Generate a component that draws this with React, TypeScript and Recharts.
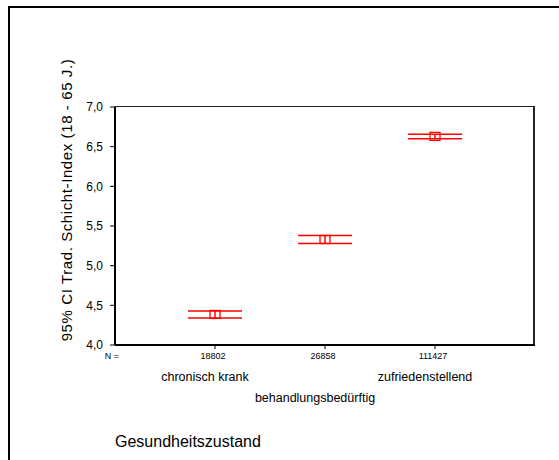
import {
  ComposedChart,
  Scatter,
  ErrorBar,
  XAxis,
  YAxis,
} from "recharts";

const categories = ["chronisch krank", "behandlungsbedürftig", "zufriedenstellend"];
const counts = ["18802", "26858", "111427"];
const means = [4.385, 5.33, 6.63];
const lowers = [4.34, 5.28, 6.6];
const uppers = [4.43, 5.38, 6.655];
const yTicks = [4.0, 4.5, 5.0, 5.5, 6.0, 6.5, 7.0];

const data = categories.map((name, i) => ({
  name,
  n: counts[i],
  mean: means[i],
  err: [means[i] - lowers[i], uppers[i] - means[i]],
}));

const RED = "#ff0000";
const FONT = "'Liberation Sans', Arial, sans-serif";

function CategoryTick(props: any) {
  const { x, y, payload, index } = props;
  const row = data[index];
  return (
    <g fontFamily={FONT} fill="#000">
      {index === 0 && (
        <text x={112} y={y + 5} fontSize={9} textAnchor="middle" dominantBaseline="central">
          N =
        </text>
      )}
      <text x={x - 2} y={y + 5} fontSize={9} textAnchor="middle" dominantBaseline="central">
        {row ? row.n : ""}
      </text>
      <text
        x={x - 10}
        y={y + (index % 2 === 1 ? 47 : 26)}
        fontSize={12.5}
        textAnchor="middle"
        dominantBaseline="central"
      >
        {payload.value}
      </text>
    </g>
  );
}

function MeanBox(props: any) {
  const { cx, cy } = props;
  if (cx == null || cy == null) return null;
  return <rect x={cx - 5} y={cy - 4} width={10} height={8} fill="none" stroke={RED} strokeWidth={1.3} />;
}

export default function App() {
  return (
    <div
      style={{
        position: "absolute",
        left: 0,
        top: 0,
        width: 559,
        height: 460,
        overflow: "hidden",
        background: "#fff",
      }}
    >
      <div
        style={{
          position: "absolute",
          left: 8,
          top: 6,
          width: 620,
          height: 520,
          border: "2px solid #000",
          boxSizing: "border-box",
        }}
      />
      <div
        style={{
          position: "absolute",
          left: 115,
          top: 106,
          width: 420,
          height: 239,
          borderTop: "1.5px solid #222",
          borderRight: "2px solid #222",
          boxSizing: "border-box",
        }}
      />
      <div style={{ position: "absolute", left: 0, top: 0 }}>
        <ComposedChart
          width={559}
          height={460}
          data={data}
          margin={{ top: 107, right: 24, bottom: 15, left: 55 }}
        >
          <XAxis
            dataKey="name"
            type="category"
            padding={{ left: 100, right: 100 }}
            height={100}
            tickSize={4}
            tickMargin={2}
            axisLine={{ stroke: "#000", strokeWidth: 2 }}
            tickLine={{ stroke: "#000" }}
            tick={<CategoryTick />}
            interval={0}
            label={{
              content: () => (
                <text x={115} y={441} fontSize={16} fontFamily={FONT} fill="#000" dominantBaseline="central">
                  Gesundheitszustand
                </text>
              ),
            }}
          />
          <YAxis
            type="number"
            domain={[4, 7]}
            ticks={yTicks}
            width={60}
            tickSize={5}
            tickMargin={7}
            axisLine={{ stroke: "#000", strokeWidth: 2 }}
            tickLine={{ stroke: "#000" }}
            tick={{ fill: "#000", fontSize: 12, fontFamily: FONT }}
            tickFormatter={(v: number) => v.toFixed(1).replace(".", ",")}
            label={{
              content: () => (
                <text
                  x={66}
                  y={200}
                  transform="rotate(-90 66 200)"
                  fontSize={15}
                  letterSpacing={0.6}
                  fontFamily={FONT}
                  fill="#000"
                  textAnchor="middle"
                  dominantBaseline="central"
                >
                  95% CI Trad. Schicht-Index (18 - 65 J.)
                </text>
              ),
            }}
          />
          <Scatter dataKey="mean" shape={<MeanBox />} isAnimationActive={false}>
            <ErrorBar dataKey="err" direction="y" width={27} stroke={RED} strokeWidth={1.5} />
          </Scatter>
        </ComposedChart>
      </div>
    </div>
  );
}
